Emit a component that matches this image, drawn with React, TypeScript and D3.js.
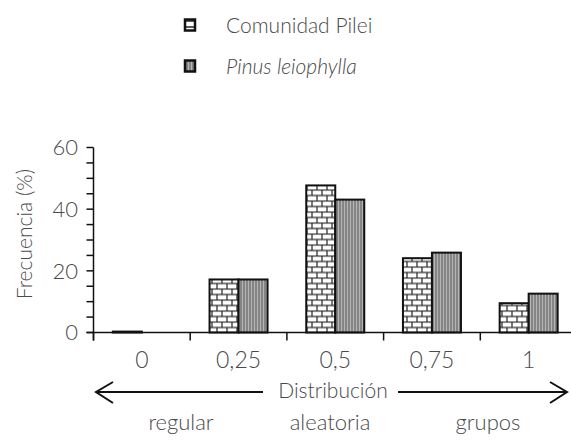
import React from "react";
import * as d3 from "d3";

const categories = ["0", "0,25", "0,5", "0,75", "1"];
const seriesNames = ["Comunidad Pilei", "Pinus leiophylla"];
const pileiValues = [0.3, 17.2, 47.7, 24.1, 9.5];
const pinusValues = [0, 17.2, 43.1, 25.9, 12.6];
const yMajorTicks = [0, 20, 40, 60];
const yMinorTicks = [5, 10, 15, 25, 30, 35, 45, 50, 55];
const regionLabels = ["regular", "aleatoria", "grupos"];

const W = 571;
const H = 440;
const FONT = "Lato, 'Open Sans', 'DejaVu Sans', sans-serif";
const TEXT = "#4a4a4a";

export default function App() {
  const axisX = 93.5;
  const x = d3.scaleBand<string>().domain(categories).range([axisX, axisX + 5 * 96.7]).padding(0);
  const y = d3.scaleLinear().domain([0, 60]).range([332.5, 147.5]);
  const barHalf = 29;
  const inner = d3.scaleBand<string>().domain(seriesNames).range([-barHalf, barHalf]).padding(0);
  const series = [pileiValues, pinusValues];
  const fills = ["url(#brick)", "url(#vlines)"];
  const y0 = y(0);

  return (
    <div style={{ position: "absolute", left: 0, top: 0 }}>
      <svg width={W} height={H} style={{ display: "block", background: "#fff" }} fontFamily={FONT}>
        <defs>
          <pattern id="brick" patternUnits="userSpaceOnUse" width="10" height="11" x={0} y={y0}>
            <rect width="10" height="11" fill="#fff" />
            <line x1="0" y1="0.5" x2="10" y2="0.5" stroke="#222" strokeWidth="1.2" />
            <line x1="0" y1="6" x2="10" y2="6" stroke="#222" strokeWidth="1.2" />
            <line x1="2" y1="0" x2="2" y2="6" stroke="#222" strokeWidth="1.2" />
            <line x1="7" y1="6" x2="7" y2="11" stroke="#222" strokeWidth="1.2" />
          </pattern>
          <pattern id="vlines" patternUnits="userSpaceOnUse" width="3" height="10">
            <rect width="3" height="10" fill="#b5b5b5" />
            <line x1="1" y1="0" x2="1" y2="10" stroke="#555" strokeWidth="1" />
          </pattern>
          <pattern id="brickIcon" patternUnits="userSpaceOnUse" width="10" height="6">
            <rect width="10" height="6" fill="#fff" />
            <line x1="0" y1="3" x2="10" y2="3" stroke="#222" strokeWidth="1.5" />
          </pattern>
        </defs>

        {/* Legend */}
        {seriesNames.map((name, i) => {
          const cy = 25 + i * 41;
          return (
            <g key={name}>
              <rect x={185} y={cy - 5.5} width={10} height={11} fill={i === 0 ? "url(#brickIcon)" : "url(#vlines)"} stroke="#111" strokeWidth={2.5} />
              <text x={226} y={cy} dy="0.36em" fontSize={21} fill={TEXT} fontWeight={300} fontStyle={i === 1 ? "italic" : "normal"}>
                {name}
              </text>
            </g>
          );
        })}

        {/* Bars */}
        {categories.map((c, ci) => {
          const cx = (x(c) as number) + x.bandwidth() / 2;
          return (
            <g key={c}>
              {series.map((vals, si) => {
                const v = vals[ci];
                if (v <= 0) return null;
                const bx = cx + (inner(seriesNames[si]) as number);
                return (
                  <rect key={si} x={bx} y={y(v)} width={inner.bandwidth()} height={y0 - y(v)} fill={fills[si]} stroke="#111" strokeWidth={2} />
                );
              })}
            </g>
          );
        })}

        {/* Y axis */}
        <line x1={axisX} y1={y(60)} x2={axisX} y2={y0 + 8} stroke="#111" strokeWidth={1.5} />
        {yMajorTicks.concat(yMinorTicks).map((t) => (
          <line key={t} x1={axisX - 7} y1={y(t)} x2={axisX} y2={y(t)} stroke="#111" strokeWidth={1.5} />
        ))}
        {yMajorTicks.map((t) => (
          <text key={t} x={78} y={y(t)} dy="0.36em" textAnchor="end" fontSize={22} fill={TEXT} fontWeight={300}>
            {t}
          </text>
        ))}
        <text transform={`translate(32,234) rotate(-90)`} textAnchor="middle" fontSize={21} fill={TEXT} fontWeight={300}>
          Frecuencia (%)
        </text>

        {/* X axis */}
        <line x1={axisX - 7} y1={y0} x2={W} y2={y0} stroke="#111" strokeWidth={1.5} />
        {categories.map((c) => (
          <line key={c} x1={x(c) as number} y1={y0} x2={x(c) as number} y2={y0 + 8} stroke="#111" strokeWidth={1.5} />
        ))}
        {categories.map((c) => (
          <text key={c} x={(x(c) as number) + x.bandwidth() / 2} y={368} textAnchor="middle" fontSize={23} fill={TEXT} fontWeight={300}>
            {c}
          </text>
        ))}

        {/* Distribution arrow */}
        <text x={333} y={398} textAnchor="middle" fontSize={21} fill={TEXT} fontWeight={300}>
          Distribución
        </text>
        <line x1={96} y1={392} x2={263} y2={392} stroke="#111" strokeWidth={2} />
        <polyline points="113,382 96,392 113,403" fill="none" stroke="#111" strokeWidth={2} />
        <line x1={398} y1={392} x2={567} y2={392} stroke="#111" strokeWidth={2} />
        <polyline points="550,382 567,392 550,403" fill="none" stroke="#111" strokeWidth={2} />
        {regionLabels.map((r, i) => (
          <text key={r} x={[181, 330, 488][i]} y={430} textAnchor="middle" fontSize={22} fill={TEXT} fontWeight={300}>
            {r}
          </text>
        ))}
      </svg>
    </div>
  );
}
